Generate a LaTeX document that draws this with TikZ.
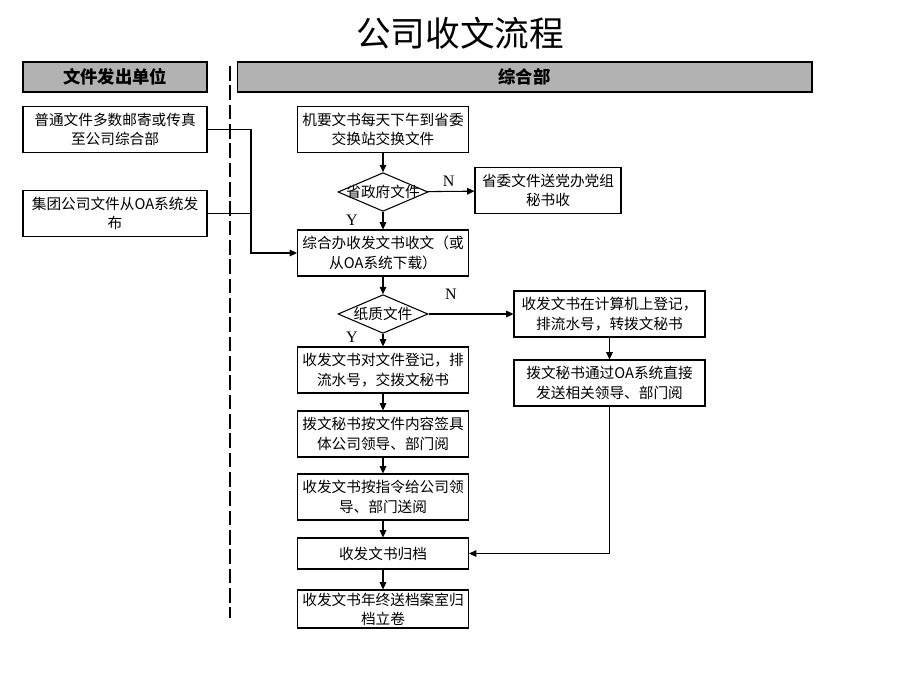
\documentclass[tikz,border=0pt]{standalone}
\usepackage{fontspec}
\setmainfont{Noto Sans CJK SC}
\newfontfamily\latinserif{Liberation Serif}
\usetikzlibrary{arrows.meta, positioning, shapes.geometric, calc}
\tikzset{%
	head/.style={draw, line width=1pt, fill=gray!60, minimum height=22.5pt,%
		font=\fontsize{13}{15}\selectfont\bfseries},
	box/.style={draw, line width=0.8pt, minimum width=128.25pt, minimum height=34.5pt,%
		inner sep=1pt, align=center, font=\fontsize{11}{14.5}\selectfont},
	srcbox/.style={box, minimum width=138pt, minimum height=35pt},
	decide/.style={draw, line width=0.8pt, diamond, minimum width=67.5pt, minimum height=29pt,%
		inner sep=0pt, label={[font=\fontsize{11}{14}\selectfont]center:#1}},
	flow/.style={line width=0.8pt, -{Triangle[length=5.5pt,width=5pt]}},
	link/.style={line width=0.8pt},
	yn/.style={font=\latinserif\fontsize{12}{14}\selectfont},
	lane/.style={line width=1.6pt, dash pattern=on 11pt off 3.5pt}
}
\begin{document}
\begin{tikzpicture}[x=0.75pt, y=-0.75pt]
		\useasboundingbox (0,0) rectangle (920,690);
		\node[font=\fontsize{26}{30}\selectfont] (title) at (460,33) {公司收文流程};
		% lanes
		\node[head, minimum width=138pt] (hsrc) at (115,77) {文件发出单位};
		\node[head, minimum width=431pt] (hdept) at (524.5,77) {综合部};
		\coordinate (lanetop) at (230,66);
		\coordinate (lanebot) at (230,618);
		\draw[lane] (lanetop) -- (lanebot);
		% sending units
		\node[srcbox] (mail) at (115,129.5) {普通文件多数邮寄或传真\\至公司综合部};
		\node[srcbox] (group) at (115,213.5) {集团公司文件从OA系统发\\布};
		% main column
		\node[box] (exch) at (383,129.5) {机要文书每天下午到省委\\交换站交换文件};
		\node[decide=省政府文件] (gov) at (383,192) {};
		\node[box, minimum width=109.5pt, minimum height=35pt] (party) at (548,190.5) {省委文件送党办党组\\秘书收};
		\node[box] (recv) at (383,253) {综合办收发文书收文（或\\从OA系统下载）};
		\node[decide=纸质文件] (paper) at (383,314) {};
		\node[box, minimum width=143.25pt] (pc) at (609.5,314) {收发文书在计算机上登记，\\排流水号，转拨文秘书};
		\node[box] (reg) at (383,370) {收发文书对文件登记，排\\流水号，交拨文秘书};
		\node[box] (sign) at (383,434) {拨文秘书按文件内容签具\\体公司领导、部门阅};
		\node[box] (send) at (383,497) {收发文书按指令给公司领\\导、部门送阅};
		\node[box, minimum height=23.25pt] (file) at (383,553.5) {收发文书归档};
		\node[box, minimum height=28.5pt] (arch) at (383,609) {收发文书年终送档案室归\\档立卷};
		\node[box, minimum width=143.25pt] (oa) at (609.5,383) {拨文秘书通过OA系统直接\\发送相关领导、部门阅};
		\coordinate (merge) at (251,213.5);
		% connectors
		\draw[link] (group.east) -- (merge);
		\draw[flow] (mail.east) -| (merge) |- (recv.west);
		\draw[flow] (exch) -- (gov);
		\draw[flow] (gov) -- node[yn, above, pos=0.45]{N} (party);
		\draw[flow] (gov) -- (recv);
		\node[yn] (gy) at (352,220) {Y};
		\draw[flow] (recv) -- (paper);
		\draw[flow] (paper) -- (pc);
		\node[yn] (pn) at (451,294) {N};
		\node[yn] (py) at (352,337) {Y};
		\draw[flow] (paper) -- (reg);
		\draw[flow] (reg) -- (sign);
		\draw[flow] (sign) -- (send);
		\draw[flow] (send) -- (file);
		\draw[flow] (file) -- (arch);
		\draw[flow] (pc) -- (oa);
		\draw[flow] (oa.south) |- (file.east);
	\end{tikzpicture}
\end{document}
